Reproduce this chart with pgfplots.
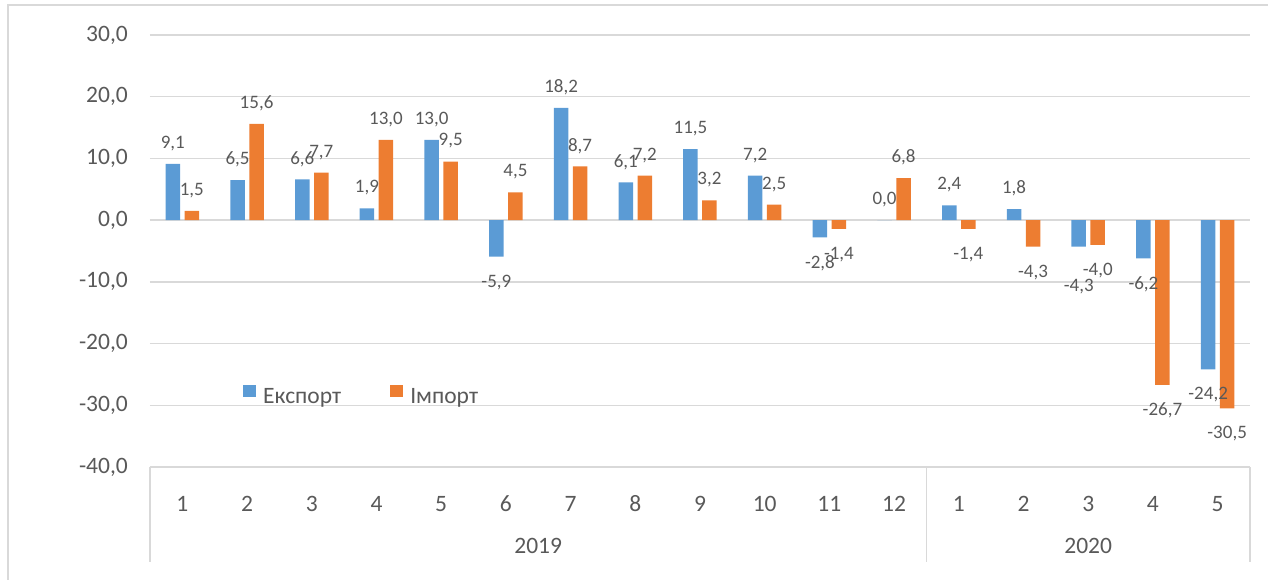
\documentclass[border=0pt]{standalone}
\usepackage{fontspec}
\setmainfont{Carlito}
\usepackage{pgfplots}
\pgfplotsset{compat=1.18}
\definecolor{expblue}{HTML}{5B9BD5}
\definecolor{imporange}{HTML}{ED7D31}
\definecolor{txtgray}{HTML}{595959}
\definecolor{gridgray}{HTML}{D9D9D9}
\begin{document}
\begin{tikzpicture}
\useasboundingbox (-150pt,-112pt) rectangle (1118pt,467pt);
\begin{axis}[
  at={(0pt,0pt)}, anchor=south west,
  scale only axis, width=1100pt, height=432pt,
  xmin=0.5, xmax=17.5, ymin=-40, ymax=30,
  clip=false,
  axis line style={draw=none},
  tick style={draw=none},
  ytick={-40,-30,-20,-10,0,10,20,30},
  yticklabels={{-40,0},{-30,0},{-20,0},{-10,0},{0,0},{10,0},{20,0},{30,0}},
  xtick={1,...,17},
  xticklabels={1,2,3,4,5,6,7,8,9,10,11,12,1,2,3,4,5},
  ymajorgrids, grid style={gridgray, line width=1.3pt},
  ticklabel style={font=\fontsize{23.5}{26}\selectfont, text=txtgray},
  xticklabel style={anchor=base, yshift=-40.5pt, inner sep=0pt},
  yticklabel style={anchor=east, inner sep=0pt, xshift=-22pt},
  ybar=4.5pt, bar width=14.5pt,
  point meta=y,
  nodes near coords={\pgfmathprintnumber[fixed,fixed zerofill,precision=1,use comma,assume math mode=true]{\pgfplotspointmeta}},
  visualization depends on={rawy \as \rawy},
  visualization depends on={rawx \as \rawx},
  every node near coord/.append style={font=\fontsize{19}{22}\selectfont, text=txtgray, anchor=center,
    yshift={ifthenelse(\rawy<0, ifthenelse(and(\rawx==15, \rawy<-4.2), -40, -25.5), 20.5)}},
  legend columns=2,
  legend style={at={(0.0845,0.142)}, anchor=south west, draw=none, fill=none, inner sep=0pt,
    font=\fontsize{23.5}{26}\selectfont, text=txtgray,
    nodes={inner sep=0pt},
    /tikz/every odd column/.append style={column sep=7.5pt},
    /tikz/every even column/.append style={column sep=49pt}},
]
\addplot[fill=expblue, draw=none,
  legend image code/.code={\fill[expblue] (0pt,0pt) rectangle (12.5pt,12.5pt);}]
  coordinates {(1,9.1) (2,6.5) (3,6.6) (4,1.9) (5,13.0) (6,-5.9) (7,18.2) (8,6.1) (9,11.5) (10,7.2) (11,-2.8) (12,0.0) (13,2.4) (14,1.8) (15,-4.3) (16,-6.2) (17,-24.2)};
\addlegendentry{Експорт}
\addplot[fill=imporange, draw=none,
  legend image code/.code={\fill[imporange] (0pt,0pt) rectangle (12.5pt,12.5pt);}]
  coordinates {(1,1.5) (2,15.6) (3,7.7) (4,13.0) (5,9.5) (6,4.5) (7,8.7) (8,7.2) (9,3.2) (10,2.5) (11,-1.4) (12,6.8) (13,-1.4) (14,-4.3) (15,-4.0) (16,-26.7) (17,-30.5)};
\addlegendentry{Імпорт}
\draw[gridgray, line width=1.3pt] (axis cs:0.5,-40) -- ++(0pt,-95pt);
\draw[gridgray, line width=1.3pt] (axis cs:12.5,-40) -- ++(0pt,-95pt);
\draw[gridgray, line width=1.3pt] (axis cs:17.5,-40) -- ++(0pt,-95pt);
\node[font=\fontsize{23.5}{26}\selectfont, text=txtgray, anchor=base, inner sep=0pt] at ([yshift=-86pt]axis cs:6.5,-40) {2019};
\node[font=\fontsize{23.5}{26}\selectfont, text=txtgray, anchor=base, inner sep=0pt] at ([yshift=-86pt]axis cs:15,-40) {2020};
\end{axis}
\draw[gridgray, line width=2pt] (-142pt,-115pt) -- (-142pt,462pt) -- (1125pt,462pt);
\end{tikzpicture}
\end{document}
